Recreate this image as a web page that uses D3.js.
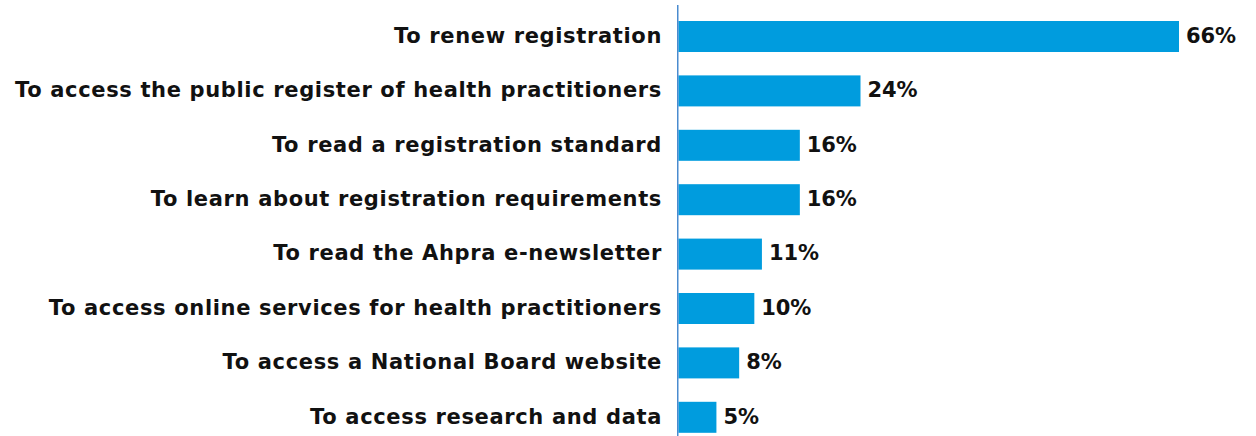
<!DOCTYPE html>
<html><head><meta charset="utf-8">
<script src="https://cdn.jsdelivr.net/npm/d3@7"></script>
<style>body{margin:0;background:#fff}svg{display:block}</style>
</head><body><svg id="c" width="1256" height="436"></svg>
<script>
const categories = [
  "To renew registration",
  "To access the public register of health practitioners",
  "To read a registration standard",
  "To learn about registration requirements",
  "To read the Ahpra e-newsletter",
  "To access online services for health practitioners",
  "To access a National Board website",
  "To access research and data"
];
const values = [66, 24, 16, 16, 11, 10, 8, 5];

const svg = d3.select("#c");
const x0 = 678.5;
const x = d3.scaleLinear().domain([0, 66]).range([x0, 1179]);
const y = d3.scaleBand().domain(categories).range([9.3, 444.5]).paddingInner(0.43).paddingOuter(0.215);
const font = "'DejaVu Sans', sans-serif";
const fs = 21;

svg.selectAll("rect.bar").data(values).join("rect")
  .attr("class","bar")
  .attr("x", x(0))
  .attr("y", (d,i)=>y(categories[i]))
  .attr("width", d=>x(d)-x(0))
  .attr("height", y.bandwidth())
  .attr("fill", "#009cde");

svg.append("line").attr("x1",677.8).attr("x2",677.8).attr("y1",5).attr("y2",436)
  .attr("stroke","#1d6fc4").attr("stroke-width",1.2);

const cats = svg.selectAll("text.cat").data(categories).join("text")
  .attr("class","cat")
  .attr("x", 662)
  .attr("y", d=>y(d)+y.bandwidth()/2)
  .attr("dy","0.3em")
  .attr("text-anchor","end")
  .attr("font-family",font).attr("font-weight",700).attr("font-size",fs)
  .attr("fill","#111")
  .text(d=>d);

// match the reference's label width: longest label spans ~647px
const longest = cats.nodes()[1];
const w = longest.getComputedTextLength();
const ls = (647 - w) / (categories[1].length);
cats.attr("letter-spacing", ls);

const vals = svg.selectAll("text.val").data(values).join("text")
  .attr("class","val")
  .attr("x", d=>x(d)+7)
  .attr("y", (d,i)=>y(categories[i])+y.bandwidth()/2)
  .attr("dy","0.3em")
  .attr("font-family",font).attr("font-weight",700).attr("font-size",fs)
  .attr("fill","#111")
  .text(d=>d+"%");
const vw = vals.nodes()[0].getComputedTextLength();
vals.attr("letter-spacing", (50 - vw) / 3);
</script></body></html>
